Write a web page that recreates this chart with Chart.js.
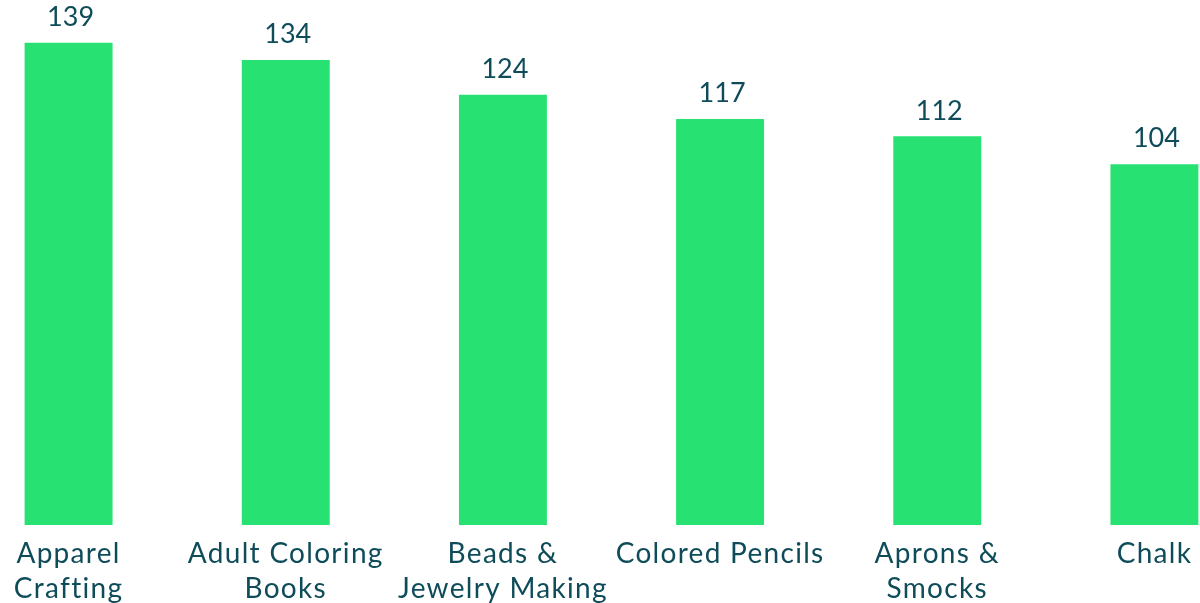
<!DOCTYPE html>
<html lang="en">
  <head>
    <meta charset="UTF-8" />
    <title>Category Totals</title>
    <style>
      html,
      body {
        margin: 0;
        padding: 0;
        background: #ffffff;
        overflow: hidden;
      }

      .wrap {
        position: absolute;
        left: -40px; /* first and last bars sit against the page edges */
        top: 0;
        width: 1303px;
        height: 603px;
      }
    </style>
    <script src="https://cdn.jsdelivr.net/npm/chart.js"></script>
  </head>
  <body>
    <div class="wrap">
      <canvas id="barChart"></canvas>
    </div>
    <script>
      const categories = [
        ["Apparel", "Crafting"],
        ["Adult Coloring", "Books"],
        ["Beads &", "Jewelry Making"],
        "Colored Pencils",
        ["Aprons &", "Smocks"],
        "Chalk",
      ];
      const values = [139, 134, 124, 117, 112, 104];

      const barColor = "#27e272";
      const textColor = "#0f4c5a";
      const fontFamily = "Lato, 'Noto Sans', sans-serif";

      // wider tracking for the category labels
      const tracking = {
        id: "tracking",
        beforeDraw(chart) {
          chart.ctx.letterSpacing = "1.3px";
        },
      };

      // value labels above each bar
      const valueLabels = {
        id: "valueLabels",
        afterDatasetsDraw(chart) {
          const ctx = chart.ctx;
          const meta = chart.getDatasetMeta(0);
          ctx.save();
          ctx.letterSpacing = "0px";
          ctx.fillStyle = textColor;
          ctx.font = "27px " + fontFamily;
          ctx.textAlign = "center";
          ctx.textBaseline = "bottom";
          meta.data.forEach((bar, i) => {
            ctx.fillText(values[i], bar.x + 2, bar.y - 12);
          });
          ctx.restore();
        },
      };

      new Chart(document.getElementById("barChart").getContext("2d"), {
        type: "bar",
        data: {
          labels: categories,
          datasets: [
            {
              data: values,
              backgroundColor: barColor,
              borderWidth: 0,
              barPercentage: 0.405,
              categoryPercentage: 1,
            },
          ],
        },
        options: {
          responsive: true,
          maintainAspectRatio: false,
          animation: false,
          layout: { padding: 0 },
          plugins: {
            legend: { display: false },
            tooltip: { enabled: false },
          },
          scales: {
            x: {
              grid: { display: false, drawTicks: false },
              border: { display: false },
              afterFit: (axis) => {
                axis.height = 78;
              },
              ticks: {
                color: textColor,
                padding: 11,
                maxRotation: 0,
                autoSkip: false,
                font: { family: fontFamily, size: 28, lineHeight: 1.25 },
              },
            },
            y: {
              display: false,
              min: 0,
              max: 151.3,
            },
          },
        },
        plugins: [tracking, valueLabels],
      });
    </script>
  </body>
</html>
